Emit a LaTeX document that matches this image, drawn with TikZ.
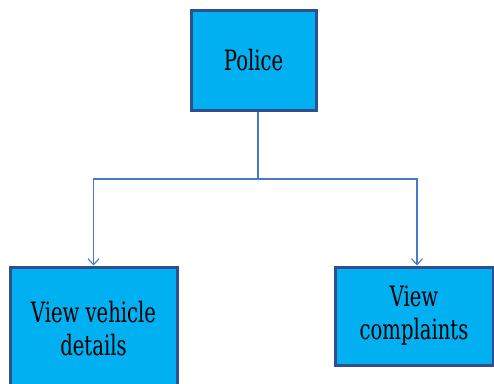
\documentclass[tikz,border=0pt]{standalone}
\usepackage{fontspec}
\setmainfont{DejaVu Serif}
\usetikzlibrary{arrows.meta,calc}
\definecolor{boxfill}{HTML}{00B0F0}
\definecolor{boxedge}{HTML}{2F4F8F}
\definecolor{linkblue}{HTML}{4A78CC}
\newcommand\squeeze[1]{\scalebox{0.7}[1]{#1}}
\begin{document}
\begin{tikzpicture}[x=1pt,y=-1pt,
  box/.style={draw=boxedge,line width=3pt,fill=boxfill,inner sep=0pt,
    align=center,font=\fontsize{28}{33}\selectfont},
  link/.style={draw=linkblue,line width=1.1pt},
  linkarrow/.style={link,-{Straight Barb[length=6pt,width=11pt,line width=1.1pt]}}]
  \useasboundingbox (0,0) rectangle (494,383);
  \clip (0,0) rectangle (494,383);
  \node[box,minimum width=125pt,minimum height=100pt] (police) at (253.5,60) {\squeeze{Police}};
  \node[box,minimum width=167pt,minimum height=124pt] (vehicle) at (93.5,329) {\squeeze{View vehicle}\\\squeeze{details}};
  \node[box,minimum width=158pt,minimum height=98pt] (complaints) at (414,316) {\squeeze{View}\\\squeeze{complaints}};
  \coordinate (stem) at ($(police.south)+(4.5,0)$);
  \coordinate (split) at (258,179);
  \draw[link] (stem) -- (split);
  \draw[linkarrow] (split) -| (vehicle.north);
  \draw[linkarrow] (split) -| ($(complaints.north)+(3,0)$);
\end{tikzpicture}
\end{document}
